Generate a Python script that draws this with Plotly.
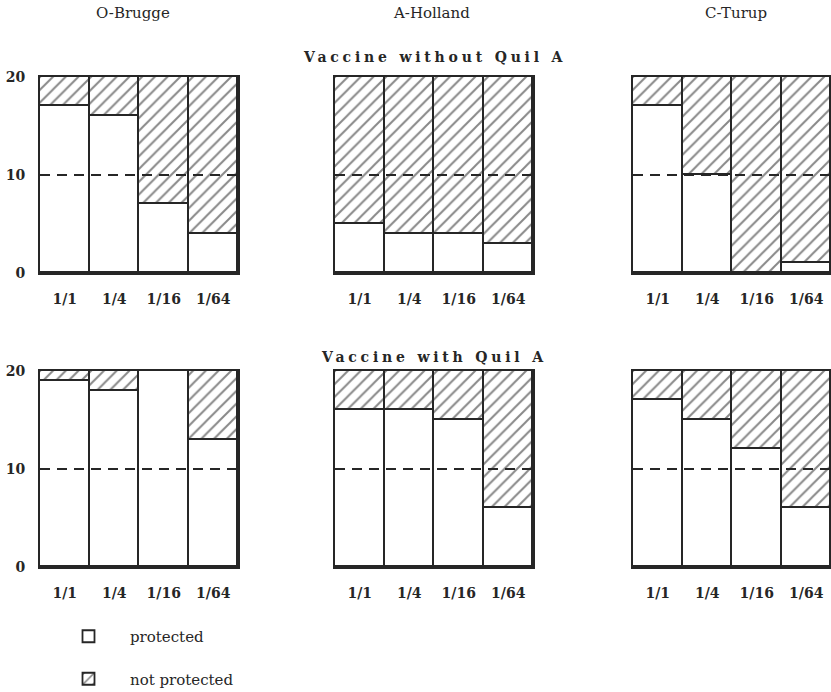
import plotly.graph_objects as go

categories = ["1/1", "1/4", "1/16", "1/64"]
strains = ["O-Brugge", "A-Holland", "C-Turup"]
row_titles = ["Vaccine without Quil A", "Vaccine with Quil A"]

# protected / not protected animals (out of 20) per dilution
prot_without = {"O-Brugge": [17, 16, 7, 4], "A-Holland": [5, 4, 4, 3], "C-Turup": [17, 10, 0, 1]}
notp_without = {"O-Brugge": [3, 4, 13, 16], "A-Holland": [15, 16, 16, 17], "C-Turup": [3, 10, 20, 19]}
prot_with = {"O-Brugge": [19, 18, 20, 13], "A-Holland": [16, 16, 15, 6], "C-Turup": [17, 15, 12, 6]}
notp_with = {"O-Brugge": [1, 2, 0, 7], "A-Holland": [4, 4, 5, 14], "C-Turup": [3, 5, 8, 14]}
y_ticks = [0, 10, 20]
threshold = 10

W, H = 831, 692
FONT = "DejaVu Serif"
INK = "#262626"


def px(v):
    return v / W


def py(v):
    return 1 - v / H


x_doms = [(40, 238), (335, 533), (633, 831)]
y_doms = [(77, 273), (371, 567)]
title_x = [133, 432, 736]

fig = go.Figure()
line = dict(color=INK, width=1.8)
rows = [(prot_without, notp_without), (prot_with, notp_with)]
k = 0
for r, (prot, notp) in enumerate(rows):
    for c, s in enumerate(strains):
        k += 1
        xa = "x" if k == 1 else f"x{k}"
        ya = "y" if k == 1 else f"y{k}"
        fig.add_trace(go.Bar(
            x=categories, y=prot[s], name="protected", xaxis=xa, yaxis=ya,
            marker=dict(color="white", line=line),
            showlegend=(k == 1), legendgroup="p"))
        fig.add_trace(go.Bar(
            x=categories, y=notp[s], name="not protected", xaxis=xa, yaxis=ya,
            marker=dict(color="white", line=line,
                        pattern=dict(shape="/", fgcolor="#111111", bgcolor="white",
                                     size=9, solidity=0.22)),
            showlegend=(k == 1), legendgroup="n"))
        x0, x1 = x_doms[c]
        yt, yb = y_doms[r]
        xkey = "xaxis" if k == 1 else f"xaxis{k}"
        ykey = "yaxis" if k == 1 else f"yaxis{k}"
        fig.layout[xkey] = dict(
            domain=[px(x0), min(px(x1), 1)], anchor=ya, type="category",
            showline=True, mirror=True, linecolor=INK, linewidth=2,
            showgrid=False, ticks="", ticklabelstandoff=12,
            tickfont=dict(family=FONT, size=14, color=INK, weight="bold"))
        fig.layout[ykey] = dict(
            domain=[py(yb), py(yt)], anchor=xa, range=[0, 20],
            showline=True, mirror=True, linecolor=INK, linewidth=2,
            showgrid=False, zeroline=False, ticks="",
            tickvals=y_ticks, showticklabels=(c == 0), ticklabelstandoff=10,
            tickfont=dict(family=FONT, size=14, color=INK, weight="bold"))
        fig.add_shape(type="line", xref=f"{xa} domain", yref=ya, x0=0, x1=1,
                      y0=threshold, y1=threshold,
                      line=dict(color=INK, width=2, dash="10px,7px"))

annotations = []
for c, s in enumerate(strains):
    annotations.append(dict(text=s, x=px(title_x[c]), y=py(13), xref="paper", yref="paper",
                            xanchor="center", yanchor="middle",
                            showarrow=False, font=dict(family=FONT, size=15, color=INK)))
for r, t in enumerate(row_titles):
    annotations.append(dict(text=f'<span style="letter-spacing:3.8px">{t}</span>',
                            x=px((335 + 533) / 2), y=py(57 if r == 0 else 357),
                            xref="paper", yref="paper", xanchor="center", yanchor="middle",
                            showarrow=False,
                            font=dict(family=FONT, size=14, color=INK, weight="bold")))

fig.update_layout(
    width=W, height=H, margin=dict(l=0, r=0, t=0, b=0, autoexpand=False),
    paper_bgcolor="white", plot_bgcolor="white",
    barmode="stack", bargap=0,
    annotations=annotations,
    legend=dict(x=px(47), y=py(620), xanchor="left", yanchor="top",
                traceorder="grouped", tracegroupgap=20, itemwidth=73,
                font=dict(family=FONT, size=15, color=INK)),
)
fig.write_html("out.html", config={"displayModeBar": False},
               post_script="document.body.style.margin='0';document.body.style.overflow='hidden';")
